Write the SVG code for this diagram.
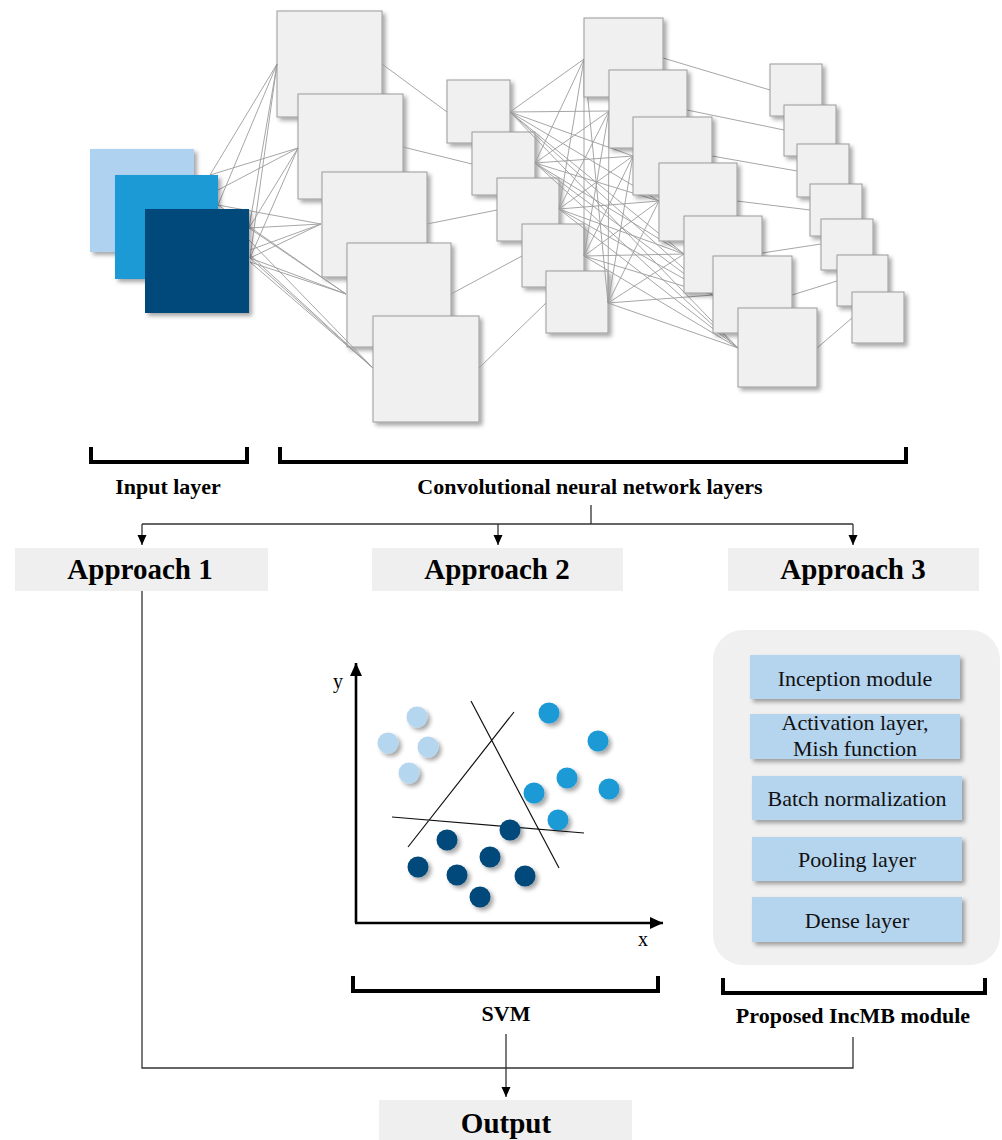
<svg xmlns="http://www.w3.org/2000/svg" width="1002" height="1140" viewBox="0 0 1002 1140">
<defs>
<filter id="sh" x="-20%" y="-20%" width="150%" height="150%">
<feDropShadow dx="3" dy="3" stdDeviation="2" flood-color="#000" flood-opacity="0.35"/>
</filter>
<marker id="arr" markerUnits="userSpaceOnUse" markerWidth="10" markerHeight="10" refX="10" refY="4.5" orient="auto">
<path d="M0,0 L10,4.5 L0,9 z" fill="#000"/>
</marker>
<marker id="axarr" markerUnits="userSpaceOnUse" markerWidth="14" markerHeight="12" refX="13" refY="6" orient="auto">
<path d="M0,0 L13,6 L0,12 z" fill="#000"/>
</marker>
<style>
.box{fill:#f0f0f0;stroke:#9a9a9a;stroke-width:1;filter:url(#sh)}
.net{stroke:#9c9c9c;stroke-width:0.9;fill:none}
.conn{stroke:#333;stroke-width:1.3;fill:none}
.bracket{stroke:#000;stroke-width:4;fill:none}
.lbl{font-family:"Liberation Serif","Times New Roman",serif;font-weight:bold;font-size:22px;text-anchor:middle;fill:#000}
.app{font-size:29px}
.abox{fill:#efefef}
.mod{fill:#b5d4ee;filter:url(#sh)}
.modt{font-family:"Liberation Serif","Times New Roman",serif;font-size:22px;text-anchor:middle;fill:#111}
.c1{fill:#b4d6ef;filter:url(#sh)}
.c2{fill:#1a9ad6;filter:url(#sh)}
.c3{fill:#004a7a;filter:url(#sh)}
.axis{stroke:#000;stroke-width:2.6;fill:none}
.sep{stroke:#111;stroke-width:1.2;fill:none}
.ax{font-family:"Liberation Serif","Times New Roman",serif;font-size:20px;fill:#000}
</style>
</defs>
<rect width="1002" height="1140" fill="#ffffff"/>

<!-- CNN layer 1 -->
<g id="cnn-layer1">
<rect class="box" x="277" y="11" width="105" height="106"/>
<rect class="box" x="298" y="94" width="105" height="105"/>
<rect class="box" x="322" y="172" width="105" height="105"/>
<rect class="box" x="347" y="243" width="104" height="104"/>
<rect class="box" x="373" y="316" width="106" height="106"/>
</g>

<!-- input to layer1 lines -->
<g id="connectors-net">
<path class="net" d="M210,175 L277,64 M218,205 L277,64 M249,228 L277,64 M250,258 L277,64
M210,175 L298,148 M218,190 L298,148 M249,228 L298,148 M250,258 L298,148
M218,205 L321,224 M249,228 L321,224 M250,250 L321,224 M250,258 L321,224
M218,205 L346,294 M249,228 L346,294 M250,258 L346,294 M250,262 L346,294
M249,240 L373,368 M250,255 L373,368 M250,258 L373,368 M250,262 L373,368"/>
<path class="net" d="M382,64 L447,112 M403,147 L472,164 M427,224 L497,210 M451,294 L522,256 M479,368 L546,303"/>
</g>

<!-- input layer -->
<g id="input-layer">
<rect x="90" y="149" width="104" height="103" fill="#aed2ef" filter="url(#sh)"/>
<rect x="115" y="175" width="103" height="104" fill="#1a9ad6" filter="url(#sh)"/>
<rect x="145" y="209" width="104" height="104" fill="#004a7a" filter="url(#sh)"/>
</g>

<!-- CNN layer 2 -->
<g id="cnn-layer2">
<rect class="box" x="447" y="80" width="63" height="63"/>
<rect class="box" x="472" y="132" width="63" height="63"/>
<rect class="box" x="497" y="178" width="62" height="63"/>
<rect class="box" x="522" y="224" width="62" height="63"/>
<rect class="box" x="546" y="271" width="62" height="62"/>
</g>

<g id="connectors-mesh">
<path class="net" d="
M510,112 L584,59 M510,112 L609,111 M510,112 L633,156 M510,112 L659,201 M510,112 L684,254 M510,112 L713,295 M510,112 L738,348
M535,163 L584,59 M535,163 L609,111 M535,163 L633,156 M535,163 L659,201 M535,163 L684,254 M535,163 L713,295 M535,163 L738,348
M559,209 L584,59 M559,209 L609,111 M559,209 L633,156 M559,209 L659,201 M559,209 L684,254 M559,209 L713,295 M559,209 L738,348
M584,256 L584,59 M584,256 L609,111 M584,256 L633,156 M584,256 L659,201 M584,256 L684,254 M584,256 L713,295 M584,256 L738,348
M608,303 L584,59 M608,303 L609,111 M608,303 L633,156 M608,303 L659,201 M608,303 L684,254 M608,303 L713,295 M608,303 L738,348"/>
<path class="net" d="M663,58 L770,90 M687,110 L784,130 M712,156 L797,171 M737,201 L810,210 M762,253 L821,244 M792,295 L837,281 M817,348 L852,318"/>
</g>

<!-- CNN layer 3 -->
<g id="cnn-layer3">
<rect class="box" x="584" y="18" width="79" height="79"/>
<rect class="box" x="609" y="70" width="78" height="78"/>
<rect class="box" x="633" y="117" width="79" height="78"/>
<rect class="box" x="659" y="163" width="78" height="78"/>
<rect class="box" x="684" y="216" width="78" height="77"/>
<rect class="box" x="713" y="256" width="79" height="77"/>
<rect class="box" x="738" y="308" width="79" height="79"/>
</g>

<!-- CNN layer 4 -->
<g id="cnn-layer4">
<rect class="box" x="770" y="64" width="52" height="52"/>
<rect class="box" x="784" y="105" width="52" height="51"/>
<rect class="box" x="797" y="144" width="52" height="53"/>
<rect class="box" x="810" y="184" width="52" height="52"/>
<rect class="box" x="821" y="219" width="52" height="51"/>
<rect class="box" x="837" y="255" width="51" height="51"/>
<rect class="box" x="852" y="292" width="52" height="51"/>
</g>

<!-- brackets and labels -->
<g id="input-label">
<path class="bracket" d="M91,447 V462 H247 V447"/>
<text class="lbl" x="168" y="494">Input layer</text>
</g>
<g id="cnn-label">
<path class="bracket" d="M280,447 V462 H906 V447"/>
<text class="lbl" x="590" y="494">Convolutional neural network layers</text>
</g>

<!-- connectors -->
<g id="connectors">
<path class="conn" d="M591,505 V524 M142,524 H853"/>
<path class="conn" d="M142,524 V545" marker-end="url(#arr)"/>
<path class="conn" d="M498,524 V545" marker-end="url(#arr)"/>
<path class="conn" d="M853,524 V545" marker-end="url(#arr)"/>
<path class="conn" d="M142,591 V1068 H853 V1037"/>
<path class="conn" d="M506,1034 V1097" marker-end="url(#arr)"/>
</g>

<g id="approach1">
<rect class="abox" x="15" y="548" width="253" height="43"/>
<text class="lbl app" x="140" y="579">Approach 1</text>
</g>
<g id="approach2">
<rect class="abox" x="372" y="548" width="251" height="43"/>
<text class="lbl app" x="497" y="579">Approach 2</text>
</g>
<g id="approach3">
<rect class="abox" x="728" y="548" width="251" height="43"/>
<text class="lbl app" x="853" y="579">Approach 3</text>
</g>

<!-- SVM scatter plot -->
<g id="svm-plot">
<path class="axis" d="M356,923 V663" marker-end="url(#axarr)"/>
<path class="axis" d="M355,923 H663" marker-end="url(#axarr)"/>
<text class="ax" x="333" y="688">y</text>
<text class="ax" x="638" y="946">x</text>
<circle class="c1" cx="417" cy="717" r="10.5"/>
<circle class="c1" cx="388" cy="743" r="10.5"/>
<circle class="c1" cx="428" cy="747" r="10.5"/>
<circle class="c1" cx="409" cy="773" r="10.5"/>
<circle class="c2" cx="549" cy="713" r="10.5"/>
<circle class="c2" cx="598" cy="741" r="10.5"/>
<circle class="c2" cx="567" cy="778" r="10.5"/>
<circle class="c2" cx="534" cy="793" r="10.5"/>
<circle class="c2" cx="609" cy="789" r="10.5"/>
<circle class="c2" cx="558" cy="820" r="10.5"/>
<path class="sep" d="M408,847 L514,712 M471,701 L559,868 M392,817 L584,833"/>
<circle class="c3" cx="510" cy="830" r="10.5"/>
<circle class="c3" cx="447" cy="840" r="10.5"/>
<circle class="c3" cx="490" cy="857" r="10.5"/>
<circle class="c3" cx="418" cy="867" r="10.5"/>
<circle class="c3" cx="457" cy="875" r="10.5"/>
<circle class="c3" cx="525" cy="876" r="10.5"/>
<circle class="c3" cx="480" cy="897" r="10.5"/>
</g>
<g id="svm-label">
<path class="bracket" d="M353,976 V991 H658 V976"/>
<text class="lbl" x="506" y="1021">SVM</text>
</g>

<!-- IncMB module -->
<g id="incmb-module">
<rect x="713" y="630" width="287" height="335" rx="30" fill="#f0f0f0"/>
<rect class="mod" x="750" y="655" width="210" height="44"/>
<text class="modt" x="855" y="686">Inception module</text>
<rect class="mod" x="750" y="714" width="210" height="45"/>
<text class="modt" x="855" y="730">Activation layer,</text>
<text class="modt" x="855" y="756">Mish function</text>
<rect class="mod" x="752" y="776" width="210" height="44"/>
<text class="modt" x="857" y="806">Batch normalization</text>
<rect class="mod" x="752" y="837" width="210" height="44"/>
<text class="modt" x="857" y="867">Pooling layer</text>
<rect class="mod" x="752" y="897" width="210" height="45"/>
<text class="modt" x="857" y="928">Dense layer</text>
</g>
<g id="incmb-label">
<path class="bracket" d="M723,978 V993 H985 V978"/>
<text class="lbl" x="853" y="1023">Proposed IncMB module</text>
</g>

<g id="output">
<rect class="abox" x="379" y="1100" width="253" height="40"/>
<text class="lbl app" x="506" y="1133">Output</text>
</g>
</svg>
